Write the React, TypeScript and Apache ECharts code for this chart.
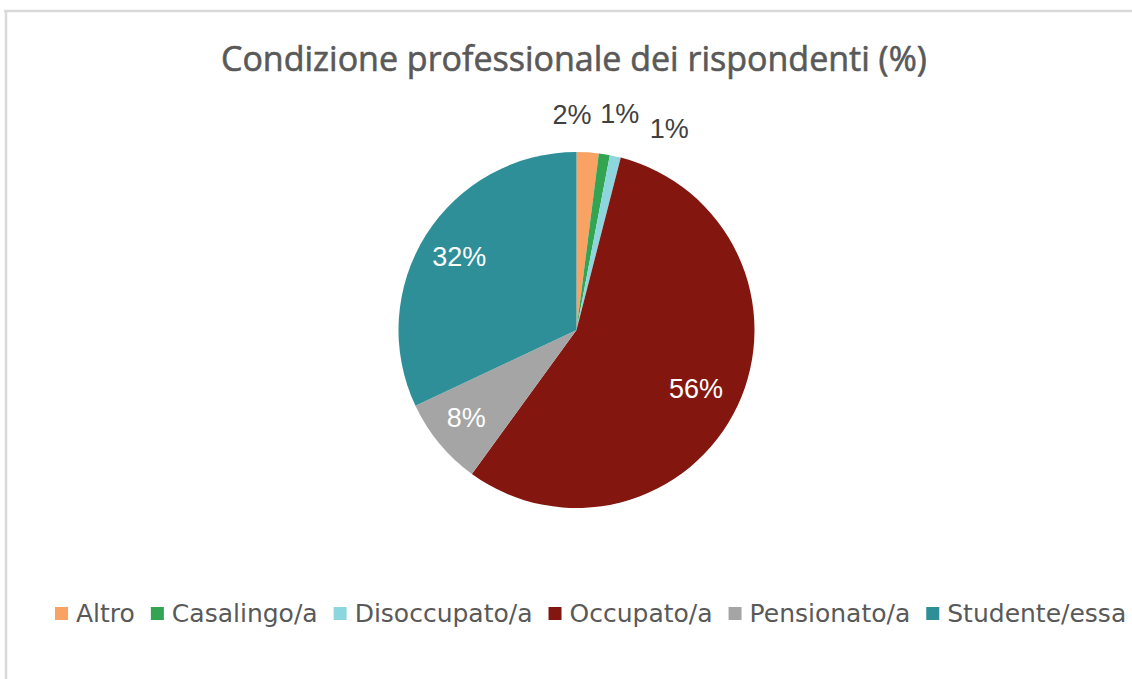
import React, { useEffect, useRef } from "react";
import * as echarts from "echarts";

const titleText = "Condizione professionale dei rispondenti (%)";
const categories = ["Altro", "Casalingo/a", "Disoccupato/a", "Occupato/a", "Pensionato/a", "Studente/essa"];
const values = [2, 1, 1, 56, 8, 32];
const colors = ["#F8A263", "#33A452", "#8ED6DE", "#831710", "#A5A5A5", "#2E8F98"];
// label styling: small slices get dark outside labels, large ones white inside labels
const labelColors = ["#404040", "#404040", "#404040", "#FFFFFF", "#FFFFFF", "#FFFFFF"];
// nudges applied to labels (pixels) to mimic the original best-fit placement
const labelDx = [-13, 22, 63, -4, -5, -2];
const labelDy = [-79, -81, -68, 1, 1, 0];

export default function App() {
  const ref = useRef<HTMLDivElement>(null);
  useEffect(() => {
    document.documentElement.style.overflow = "hidden";
    document.body.style.overflow = "hidden";
    document.body.style.margin = "0";
    if (!ref.current) return;
    const chart = echarts.init(ref.current, undefined, { renderer: "svg" });
    const center = [576.5, 330];
    const R = 178;
    chart.setOption({
      animation: false,
      backgroundColor: "#ffffff",
      color: colors,
      title: {
        text: titleText,
        left: 216,
        top: 36,
        textStyle: {
          fontFamily: "Open Sans",
          fontSize: 34,
          fontWeight: "normal",
          color: "#595959",
          textBorderColor: "#595959",
          textBorderWidth: 0.6,
        },
      },
      legend: {
        data: categories,
        left: 50,
        top: 596,
        icon: "rect",
        itemWidth: 13,
        itemHeight: 13,
        itemGap: 16,
        selectedMode: false,
        textStyle: {
          fontFamily: "DejaVu Sans",
          fontSize: 25,
          color: "#595959",
          padding: [0, 0, 0, 3],
        },
      },
      graphic: [
        {
          type: "line",
          shape: { x1: 4, y1: 11, x2: 1140, y2: 11 },
          style: { stroke: "#D9D9D9", lineWidth: 2.5 },
          silent: true,
          z: -1,
        },
        {
          type: "line",
          shape: { x1: 6, y1: 10, x2: 6, y2: 700 },
          style: { stroke: "#D9D9D9", lineWidth: 2.5 },
          silent: true,
          z: -1,
        },
      ],
      series: [
        {
          type: "pie",
          center,
          radius: [0, R],
          startAngle: 90,
          clockwise: true,
          label: { show: false },
          labelLine: { show: false },
          emphasis: { disabled: true },
          itemStyle: { borderWidth: 0 },
          data: categories.map((name, i) => ({ name, value: values[i], itemStyle: { color: colors[i] } })),
        },
        {
          type: "pie",
          center,
          radius: [R / 2, R],
          startAngle: 90,
          clockwise: true,
          silent: true,
          emphasis: { disabled: true },
          itemStyle: { color: "rgba(0,0,0,0)", borderWidth: 0 },
          labelLine: { show: false },
          label: {
            show: true,
            position: "inside",
            fontFamily: "Liberation Sans",
            fontSize: 27,
            formatter: (p: any) => `${p.value}%`,
          },
          labelLayout: (p: any) => ({ dx: labelDx[p.dataIndex], dy: labelDy[p.dataIndex] }),
          data: categories.map((name, i) => ({
            name,
            value: values[i],
            label: { color: labelColors[i] },
          })),
        },
      ],
    });
    return () => chart.dispose();
  }, []);
  return (
    <div
      ref={ref}
      style={{ position: "fixed", left: 0, top: 0, width: 1132, height: 679 }}
    />
  );
}
